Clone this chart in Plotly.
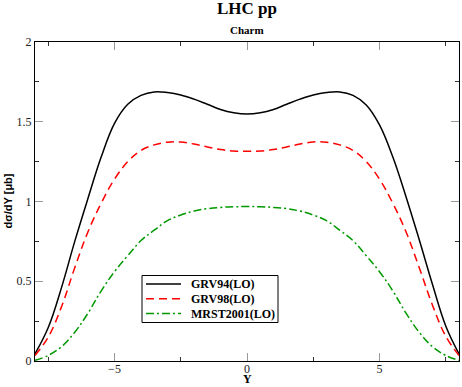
import plotly.graph_objects as go

# rapidity grid and the three charm curves (d sigma / dY in microbarn)
RAPIDITY = [-8.0, -7.5, -7.0, -6.5, -6.0, -5.5, -5.0, -4.5, -4.0, -3.5, -3.0,
            -2.5, -2.0, -1.5, -1.0, -0.5, 0.0, 0.5, 1.0, 1.5, 2.0, 2.5,
            3.0, 3.5, 4.0, 4.5, 5.0, 5.5, 6.0, 6.5, 7.0, 7.5, 8.0]
GRV94 = [0.045, 0.21, 0.46, 0.75, 1.02, 1.28, 1.49, 1.61, 1.665, 1.687, 1.683,
         1.668, 1.642, 1.61, 1.577, 1.556, 1.548, 1.556, 1.577, 1.61, 1.642, 1.668,
         1.683, 1.687, 1.665, 1.605, 1.48, 1.28, 1.03, 0.76, 0.48, 0.22, 0.045]
GRV98 = [0.035, 0.15, 0.34, 0.585, 0.81, 0.99, 1.14, 1.25, 1.32, 1.355, 1.372,
         1.373, 1.36, 1.342, 1.326, 1.317, 1.315, 1.317, 1.326, 1.342, 1.36, 1.373,
         1.372, 1.355, 1.32, 1.25, 1.14, 0.99, 0.81, 0.585, 0.35, 0.155, 0.035]
MRST2001 = [0.004, 0.035, 0.09, 0.18, 0.30, 0.44, 0.56, 0.66, 0.755, 0.82, 0.88,
            0.915, 0.94, 0.955, 0.963, 0.967, 0.968, 0.967, 0.963, 0.955, 0.94, 0.915,
            0.88, 0.82, 0.755, 0.66, 0.56, 0.44, 0.30, 0.18, 0.09, 0.035, 0.004]

SERIES = [
    ("GRV94(LO)", GRV94, "#000000", "solid"),
    ("GRV98(LO)", GRV98, "#ff0000", "8px,5px"),
    ("MRST2001(LO)", MRST2001, "#009900", "8px,3px,2px,3px"),
]

SERIF = "Liberation Serif"

# plot area in pixels, used for the hand drawn legend box
L, R, T, B = 35, 459, 42.5, 361.5
def px(x):
    return (x - L) / (R - L)
def py(y):
    return (B - y) / (B - T)

fig = go.Figure()
shapes = [dict(type="rect", xref="paper", yref="paper",
               x0=px(142), x1=px(278), y0=py(323), y1=py(276),
               line=dict(color="black", width=1), fillcolor="white", layer="above")]
annotations = []
for i, (name, values, color, dash) in enumerate(SERIES):
    fig.add_trace(go.Scatter(x=RAPIDITY, y=values, mode="lines", line_shape="spline",
                             line=dict(color=color, width=1.5, dash=dash, smoothing=1.1),
                             name=name, showlegend=False))
    ycen = 284.5 + i * 14.8
    shapes.append(dict(type="line", xref="paper", yref="paper",
                       x0=px(146), x1=px(181), y0=py(ycen), y1=py(ycen),
                       line=dict(color=color, width=1.5, dash=dash), layer="above"))
    annotations.append(dict(text="<b>%s</b>" % name, xref="paper", yref="paper",
                            x=px(189), y=py(ycen), xanchor="left", yanchor="middle",
                            showarrow=False,
                            font=dict(family=SERIF, size=12, color="black")))

axis_common = dict(showline=True, linecolor="black", linewidth=1.2, mirror="ticks",
                   ticks="inside", ticklen=8, tickcolor="#999999", tickwidth=1.2,
                   showgrid=False, zeroline=False, automargin=False,
                   tickfont=dict(family=SERIF, size=12, color="#222222"))

fig.update_xaxes(range=[-8, 8], dtick=5, tick0=0, ticklabelstandoff=-4,
                 minor=dict(dtick=2.5, ticks="inside", ticklen=4, tickcolor="#333333"),
                 **axis_common)
fig.update_yaxes(range=[0, 2], dtick=0.5, tick0=0,
                 minor=dict(dtick=0.25, ticks="inside", ticklen=4, tickcolor="#333333"),
                 **axis_common)

annotations += [
    dict(text="<b>LHC pp</b>", xref="paper", yref="paper", x=0.5, y=1,
         yshift=22, xanchor="center", yanchor="bottom", showarrow=False,
         font=dict(family=SERIF, size=17, color="black")),
    dict(text="<b>Charm</b>", xref="paper", yref="paper", x=0.5, y=1,
         yshift=4, xanchor="center", yanchor="bottom", showarrow=False,
         font=dict(family=SERIF, size=11, color="black")),
    dict(text="<b>Y</b>", xref="paper", yref="paper", x=0.5, y=0,
         yshift=-25.5, xanchor="center", yanchor="bottom", showarrow=False,
         borderpad=0, font=dict(family=SERIF, size=12, color="black")),
    dict(text="<b>dσ/dY [μb]</b>", xref="paper", yref="paper", x=0, y=0.5,
         xshift=-28, xanchor="center", yanchor="middle", textangle=-90,
         showarrow=False, font=dict(family="Liberation Sans", size=11, color="black")),
]

fig.update_layout(
    width=462, height=387, autosize=False,
    margin=dict(l=35, r=3, t=42, b=26),
    paper_bgcolor="white", plot_bgcolor="white",
    showlegend=False,
    shapes=shapes,
    annotations=annotations,
)

fig.write_html("out.html", config={"displayModeBar": False},
               post_script="document.body.style.margin='0';")
